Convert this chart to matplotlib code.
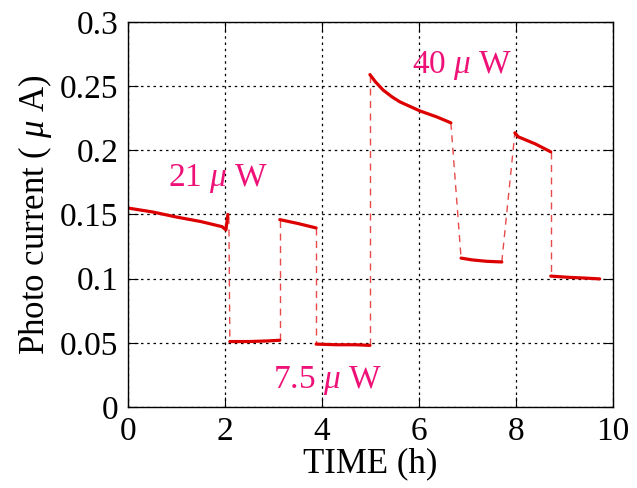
import matplotlib
matplotlib.use("Agg")
import matplotlib.pyplot as plt

plt.rcParams["font.family"] = ["Liberation Serif", "DejaVu Serif"]
plt.rcParams["mathtext.fontset"] = "custom"
plt.rcParams["mathtext.rm"] = "Liberation Serif"
plt.rcParams["mathtext.it"] = "Liberation Serif:italic"

# measured segments (time in h, current in uA)
seg_time = [
    [0.0, 0.5, 1.0, 1.5, 1.94, 2.02, 2.06],
    [2.10, 2.5, 2.9, 3.13],
    [3.13, 3.5, 3.88],
    [3.88, 4.3, 4.7, 4.99],
    [4.99, 5.1, 5.26, 5.45, 5.61, 6.02, 6.37, 6.66],
    [6.87, 7.1, 7.4, 7.71],
    [7.98, 8.05, 8.4, 8.72],
    [8.72, 9.1, 9.4, 9.73],
]
seg_current = [
    [0.155, 0.152, 0.148, 0.1445, 0.1405, 0.138, 0.150],
    [0.051, 0.051, 0.0515, 0.052],
    [0.146, 0.143, 0.1395],
    [0.049, 0.0485, 0.0485, 0.048],
    [0.259, 0.2535, 0.247, 0.2415, 0.2377, 0.2307, 0.226, 0.2214],
    [0.116, 0.1146, 0.1135, 0.113],
    [0.2136, 0.2105, 0.205, 0.1988],
    [0.102, 0.101, 0.1005, 0.0998],
]
# switching transitions (start, end)
trans_time = [(2.08, 2.10), (3.13, 3.13), (3.88, 3.88), (4.99, 4.99),
              (6.66, 6.87), (7.71, 7.98), (8.72, 8.72)]
trans_current = [(0.148, 0.051), (0.052, 0.146), (0.1395, 0.049), (0.048, 0.259),
                 (0.2214, 0.116), (0.113, 0.2136), (0.1988, 0.102)]

labels = ["21 $\\mu$ W", "7.5 $\\mu$ W", "40 $\\mu$ W"]
label_pos = [(1.86, 0.178), (4.12, 0.021), (6.89, 0.266)]

fig = plt.figure(figsize=(6.37, 4.88), dpi=100)
ax = fig.add_axes([0.201, 0.166, 0.761, 0.789])

for (t0, t1), (c0, c1) in zip(trans_time, trans_current):
    ax.plot([t0, t1], [c0, c1], color="#e84a4a", lw=1.0, ls=(0, (5, 4)))
for t, c in zip(seg_time, seg_current):
    ax.plot(t, c, color="#dd0000", lw=2.3, solid_capstyle="round")

for txt, (x, y) in zip(labels, label_pos):
    ax.text(x, y, txt, color="#ee1177", fontsize=24, ha="center", va="center")

ax.set_xlim(0, 10)
ax.set_ylim(0, 0.3)
ax.set_xticks([0, 2, 4, 6, 8, 10])
ax.set_yticks([0, 0.05, 0.1, 0.15, 0.2, 0.25, 0.3])
ax.set_yticklabels(["0", "0.05", "0.1", "0.15", "0.2", "0.25", "0.3"])
ax.grid(True, color="black", ls=(0, (2, 3)), lw=0.9)
ax.tick_params(direction="in", length=7, top=True, right=True, labelsize=24, pad=7)
ax.set_xlabel("TIME (h)", fontsize=25, labelpad=0)
ax.set_ylabel("Photo current ( $\\mu$ A)", fontsize=25, labelpad=4)
for s in ax.spines.values():
    s.set_linewidth(1.0)

fig.savefig("out.png", dpi=100)
